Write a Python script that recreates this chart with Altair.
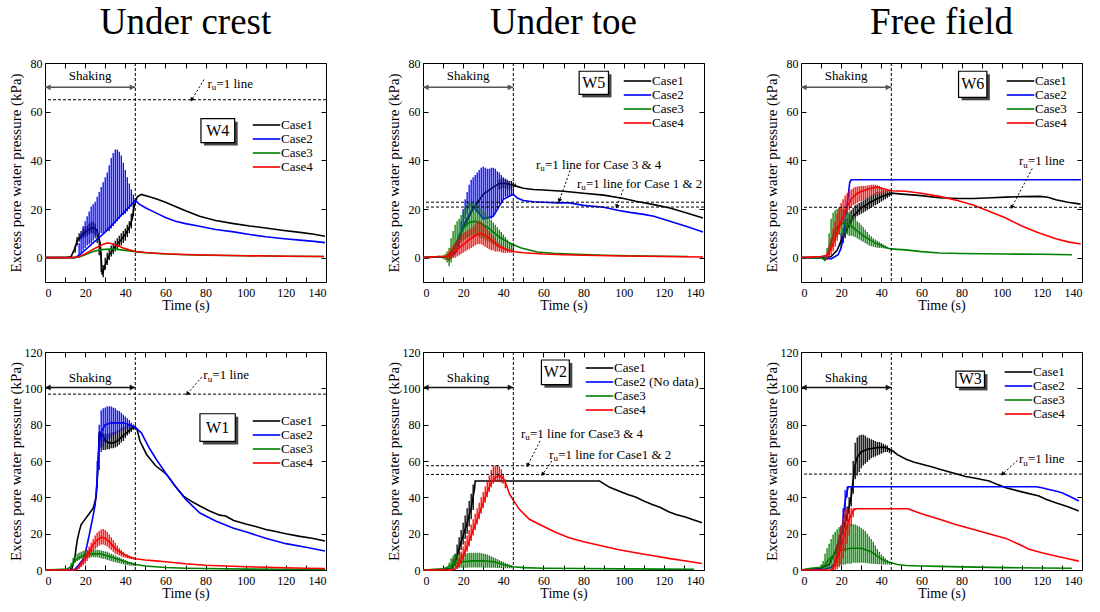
import math
import altair as alt
import pandas as pd

SERIF = "Liberation Serif, Times New Roman, DejaVu Serif, serif"
CASE_COLORS = ["#000000", "#0000ff", "#008000", "#ff0000"]
CASE_LABELS = ["Case1", "Case2", "Case3", "Case4"]
W2_CASE_LABELS = ["Case1", "Case2 (No data)", "Case3", "Case4"]
X_TICKS = list(range(0, 141, 10))
Y_TICKS_TOP = [0, 20, 40, 60, 80]
Y_TICKS_BOT = [0, 20, 40, 60, 80, 100, 120]
SHAKING_END = 45

# ---------------- W4 (Under crest, top) ----------------
W4_C1_T = [0, 10, 13, 15, 16, 18, 20, 22, 24, 26, 27.5, 28.5, 30, 32, 34, 36, 38, 40, 42, 43.5, 44.5, 46, 48, 52, 56, 60, 65, 70, 77, 85, 94, 102, 110, 118, 127, 134, 139.5]
W4_C1_V = [0, 0, 0.5, 4, 7, 9, 10.5, 11.5, 12.5, 11, 6, -7, -3, 1, 3.5, 5.5, 7.5, 9.5, 12.5, 16, 21.5, 25, 26, 25, 24, 22.8, 21, 19.3, 17, 15.3, 14, 13, 12.2, 11.3, 10.4, 9.6, 8.8]
W4_C1_B0 = 15
W4_C1_LO = [2, 5, 6.5, 7.5, 8, 8.5, 9, 9.5, 10, 10, 9, 6, 1, -6, -8, -5, -3, -1, 0.5, 1.5, 2.5, 3.5, 4.5, 5, 6, 7, 8.5, 10, 12, 17]
W4_C1_HI = [5, 8.5, 10, 11, 12, 12.5, 13, 14, 14.5, 15, 14, 12, 8, 2, -3, 0, 2, 3.5, 5, 6, 7, 8, 9, 10, 11, 12, 13.5, 15, 18, 22]
W4_C2_T = [0, 10, 15, 17, 30, 45, 47, 50, 55, 60, 65, 70, 77, 85, 94, 102, 110, 118, 127, 134, 139.5]
W4_C2_V = [0, 0, 0, 1, 10.5, 23.5, 22, 20.5, 18.5, 16.5, 15, 14, 12.9, 11.6, 10.6, 9.5, 8.6, 7.9, 7.2, 6.7, 6.2]
W4_C2_B0 = 17
W4_C2_LO = [1, 2, 3, 4, 5, 5.5, 6, 7, 8, 9, 9, 10, 10, 10.5, 11, 11, 12, 13, 14, 15, 16, 17, 17.5, 18, 19, 20, 21, 22, 23]
W4_C2_HI = [6, 10, 13, 15, 17, 19, 21, 22, 23, 25, 27, 29, 31, 33, 35, 38, 41, 43, 44.5, 44.5, 43.5, 42, 39, 36, 33, 30.5, 28, 26, 24.5]
W4_C3_T = [0, 14, 17, 20, 24, 28, 32, 36, 40, 45, 50, 60, 70, 80, 100, 120, 139]
W4_C3_V = [0, 0, 0.3, 1.2, 2.5, 3.3, 3.5, 3.4, 3, 2.5, 2, 1.5, 1.2, 1, 0.8, 0.6, 0.5]
W4_C4_T = [0, 14, 17, 20, 23, 26, 29, 31, 33, 36, 39, 42, 45, 50, 60, 70, 80, 100, 120, 139]
W4_C4_V = [0, 0, 0.5, 1.5, 3, 4.3, 5.5, 6, 5.8, 5, 4, 3.2, 2.5, 2.1, 1.6, 1.3, 1.1, 0.8, 0.6, 0.5]

# ---------------- W5 (Under toe, top) ----------------
W5_C1_T = [0, 12, 15, 20, 25, 30, 35, 38, 41, 44, 46, 50, 55, 60, 70, 80, 90, 100, 106, 115, 123, 131, 139.5]
W5_C1_V = [0, 0.5, 3, 12, 20, 26, 29, 30.5, 30.5, 30, 29.5, 28.5, 28, 27.8, 27.3, 26.5, 25.7, 24.3, 23.2, 21.8, 20.4, 18.5, 16.3]
W5_C1_B0 = 38
W5_C1_LO = [28, 28, 28.5, 28.5, 28, 28, 28, 28.5, 29]
W5_C1_HI = [32, 32.5, 32.5, 32, 32, 31.5, 31.5, 31, 30.5]
W5_C2_T = [0, 12, 15, 17, 20, 25, 30, 35, 40, 45, 47, 50, 55, 60, 67, 73, 80, 90, 97, 103, 110, 115, 123, 131, 139.5]
W5_C2_V = [0, 0.5, 1, 3, 13, 21, 16, 17, 24, 26, 24.5, 23.5, 23, 22.8, 22.5, 22.5, 21.5, 20.7, 19.5, 18.6, 17.8, 17, 15, 12.9, 10.5]
W5_C2_B0 = 17
W5_C2_LO = [3, 6, 9, 13, 16, 18, 20, 21, 21, 20, 19, 18, 17, 16, 16, 16, 16, 16, 17, 18, 20, 22, 23, 24, 25, 25, 25, 25.5, 26]
W5_C2_HI = [6, 10, 15, 20, 24, 27, 30, 32, 33, 34, 35, 36, 37, 37.5, 37, 36.5, 36.5, 37, 37, 36.5, 35.5, 35, 34, 33, 32.5, 32, 31.5, 30, 28]
W5_C3_T = [0, 8, 12, 13, 14, 16, 18, 20, 23, 26, 29, 32, 35, 38, 41, 45, 49, 57, 65, 73, 90, 110, 132]
W5_C3_V = [0, 0.5, 0, -1, 1, 5, 9, 12, 14.5, 15, 14, 12.5, 10.5, 8.5, 7, 5.3, 4, 2.3, 1.8, 1.5, 1, 0.7, 0.5]
W5_C3_B0 = 10
W5_C3_LO = [-0.5, -1, -2, -3.5, -2, 0, 2, 3.5, 5, 6, 7, 7.5, 8, 8.5, 9, 9, 9, 9, 8.5, 8, 8, 7.5, 7, 6.5, 6, 5.5, 5, 4.5, 4.2, 4, 3.8, 3.6, 3.4, 3.2, 3, 3]
W5_C3_HI = [1, 1.5, 2.5, 4, 8, 11, 13.5, 15, 16, 17.5, 19, 20.5, 21.5, 22.5, 22.5, 22.5, 22.5, 22, 21.5, 20.5, 19.5, 19, 18, 17, 15.5, 14.5, 13.5, 12.5, 11.5, 10.5, 9.5, 8.5, 7.5, 6.5, 6, 5.3]
W5_C4_T = [0, 8, 12, 15, 18, 21, 24, 27, 29, 32, 35, 38, 41, 45, 50, 60, 70, 80, 100, 120, 139.5]
W5_C4_V = [0, 0.5, 0.5, 2, 4, 6, 8, 9.5, 10, 8.5, 6.5, 4.5, 3.5, 2.5, 2, 1.5, 1.2, 1, 0.7, 0.5, 0.3]
W5_C4_B0 = 12
W5_C4_LO = [-1, -1, -0.5, 0, 0, 0.5, 1, 1.5, 2, 2.5, 3, 3.5, 4, 4.5, 5, 5.5, 5.5, 5.5, 5, 4.5, 4, 3.5, 3, 3, 2.5, 2.5, 2.5, 2.2, 2, 2, 2, 2, 2, 2]
W5_C4_HI = [1.5, 2.5, 4, 5, 6, 7, 8, 9, 10, 10.5, 11, 11.5, 12, 12.5, 13.5, 14.5, 15, 15, 14, 13, 12, 11, 10, 9, 8, 7, 6, 5.5, 5, 4.5, 4, 3.5, 3, 3]

# ---------------- W6 (Free field, top) ----------------
W6_C1_T = [0, 12, 15, 18, 20, 23, 26, 30, 35, 40, 45, 52, 60, 69, 78, 86, 95, 102, 110, 119, 123, 127, 133, 139.3]
W6_C1_V = [0, 0, 0.5, 3, 7, 12, 17, 20.5, 23, 25, 26.5, 26, 25.5, 24.6, 24.3, 24.3, 24.6, 24.9, 25.1, 25.2, 24.8, 23.8, 22.8, 22]
W6_C1_B0 = 20
W6_C1_LO = [4, 6, 8, 10, 12, 13.5, 15, 16, 17, 17.5, 18, 18.5, 19, 19.5, 20, 20.5, 21, 21.5, 22, 22.5, 23, 23.5, 24, 24.5, 25, 25.5]
W6_C1_HI = [10, 12, 14, 16, 18, 19.5, 20.5, 21.5, 22, 22.5, 23, 23.5, 24, 24.5, 25, 25.5, 26, 26.5, 27, 27, 27, 27.5, 27.5, 27.5, 27.5, 27.5]
W6_C2_T = [0, 12, 15, 18.5, 20, 21, 22, 23, 24.3, 25, 139.5]
W6_C2_V = [0, 0, -0.5, 1.2, 4, 8, 15, 22, 31, 32, 32]
W6_C3_T = [0, 10, 12, 13, 14, 16, 18, 20, 22, 25, 28, 31, 34, 37, 40, 43, 45, 48, 52, 60, 69, 80, 102, 120, 135]
W6_C3_V = [0, 0, -1, 0, 4, 9, 12.5, 14, 14, 13, 11, 9, 7.5, 6, 5, 4, 3.6, 3.4, 3.2, 2.5, 1.9, 1.7, 1.5, 1.4, 1.2]
W6_C3_B0 = 12
W6_C3_LO = [-1.5, -1, 1, 3, 5, 7, 8.5, 9.5, 9.5, 9.5, 9.5, 9.5, 9, 9, 8.8, 8.5, 8, 7.5, 7, 6.5, 6, 5.5, 5, 4.7, 4.5, 4.3, 4.1, 4, 4, 3.9, 3.8, 3.7, 3.6, 3.5]
W6_C3_HI = [1, 4, 10, 16, 18.5, 19.5, 20, 20.5, 20.5, 20, 20, 19.5, 19, 18, 17, 16, 15, 14.3, 13.5, 12.5, 11.5, 10.5, 9.5, 8.8, 8, 7.5, 7, 6.5, 6, 5.5, 5, 4.5, 4, 3.8]
W6_C4_T = [0, 10, 13, 15, 17, 19, 21, 23, 25, 28, 31, 35, 38, 41, 45, 52, 60, 69, 78, 86, 94, 102, 110, 118, 127, 133, 139.3]
W6_C4_V = [0, 0.5, 1, 3.5, 8, 13, 17, 21, 24, 26.5, 27.5, 28.5, 29, 28.3, 27.5, 27.3, 26.5, 25.2, 23.5, 21.5, 19, 16.3, 13, 10.3, 7.8, 6.5, 5.6]
W6_C4_B0 = 13
W6_C4_LO = [-1, 0, 1, 2.5, 4.5, 7, 9.5, 12, 14, 16, 18, 19.5, 20.5, 21.5, 22, 22.5, 23, 23.2, 23.5, 24, 24.5, 25, 25.3, 25.6, 25.8, 26, 26, 26.2, 26.4, 26.6, 26.8, 27]
W6_C4_HI = [2, 5, 8, 12, 15, 18, 20.5, 22.5, 24, 25.5, 26.5, 27.5, 28, 28.5, 29, 29.2, 29.3, 29.5, 29.5, 29.5, 29.7, 29.8, 30, 30, 30, 29.8, 29.5, 29, 28.6, 28.3, 28, 27.8]

# ---------------- W1 (Under crest, bottom) ----------------
W1_C1_T = [0, 12, 13.5, 15, 16, 17, 18, 20, 22, 24, 25.5, 26.3, 27, 28, 30, 32, 34, 36, 38, 40, 42, 44, 45.7, 47.3, 50.6, 55, 60.6, 65, 69, 73, 77.2, 82, 87, 90, 94, 100, 105, 110, 115, 120, 127, 133, 139.5]
W1_C1_V = [0, 0, 1, 8, 16, 21, 25, 28, 31, 34, 40, 55, 75, 76, 71, 70, 70, 71, 73, 75, 77, 78.5, 78, 71, 63.6, 57.5, 52.6, 46, 40.7, 37.8, 35.2, 32.5, 30.2, 29.7, 27.3, 25.3, 24, 22.3, 21.2, 20, 18.5, 17.5, 16]
W1_C1_B0 = 27
W1_C1_LO = [70, 67, 66, 66, 66.5, 66.5, 67, 67, 67.5, 68, 69, 70, 71, 72.5, 74, 75, 76, 77, 77.5]
W1_C1_HI = [76, 76, 74, 75, 75, 75, 75.5, 76, 76, 76.5, 77, 78, 78.5, 79, 79.5, 80, 80, 80, 79.5]
W1_C2_T = [0, 14, 15, 17, 19, 20, 22, 24, 25, 26, 27, 28, 30, 33, 36, 39, 42, 45, 48, 52, 56, 60, 65, 70, 77, 85, 94, 100, 110, 120, 130, 139.5]
W1_C2_V = [0, 0, 0.5, 3, 6, 9, 19, 30, 36, 50, 70, 76, 80, 81, 81, 81, 80, 78.5, 75.5, 67, 60, 53.5, 46, 39, 31.5, 27, 23, 21, 17.5, 14.5, 12.5, 10.5]
W1_C2_B0 = 26
W1_C2_LO = [45, 55, 65, 68, 70, 71, 72, 73, 74, 74.5, 75, 76, 76.5, 77, 77.5, 78, 78, 78, 78, 78]
W1_C2_HI = [60, 80, 88, 89, 89.5, 90, 90.2, 90, 89.5, 89, 88, 87.5, 86.5, 85.5, 84.5, 83.5, 82.5, 81, 80, 79.5]
W1_C3_T = [0, 11, 13, 15, 17, 20, 24, 28, 32, 36, 40, 45, 50, 60, 70, 80, 100, 120, 139.5]
W1_C3_V = [0, 0.5, 2, 5, 7, 8.3, 9, 8.8, 7.5, 6, 4.5, 3, 2.2, 1.4, 1, 0.8, 0.5, 0.4, 0.3]
W1_C3_B0 = 13
W1_C3_LO = [1, 2.5, 4, 5, 5.5, 6, 6.2, 6.5, 6.8, 7, 7, 7, 7, 7, 6.8, 6.5, 6.2, 6, 5.5, 5.2, 5, 4.6, 4.3, 4, 3.7, 3.4, 3.1, 2.9, 2.7, 2.5, 2.4, 2.3, 2.2]
W1_C3_HI = [4, 6.5, 8, 9, 9.5, 10, 10.5, 11, 11, 11.2, 11.3, 11.3, 11.3, 11.2, 11, 10.8, 10.5, 10.2, 10, 9.5, 9, 8.5, 8, 7.5, 7, 6.5, 6, 5.5, 5, 4.5, 4.2, 4, 3.5]
W1_C4_T = [0, 15, 16, 18, 20, 22, 24, 26, 28, 30, 32, 34, 36, 38, 40, 42, 45, 50, 55, 60, 70, 80, 90, 100, 110, 120, 130, 139.5]
W1_C4_V = [0, 0, 0.5, 3, 6, 10, 14, 16.5, 18, 17.5, 15.5, 13, 11, 9.5, 8.2, 7.2, 6.2, 5.5, 5, 4.5, 3.4, 2.6, 2.2, 1.8, 1.5, 1.2, 1, 0.8]
W1_C4_B0 = 17
W1_C4_LO = [0.5, 1.5, 2.5, 3.5, 5, 6.5, 8, 10, 11.5, 12.5, 13.5, 14, 14, 13.5, 13, 12, 11, 10, 9, 8.5, 8, 7.5, 7, 6.8, 6.5, 6.2, 6, 5.8, 5.6]
W1_C4_HI = [2.5, 4.5, 6.5, 8.5, 11, 13, 15, 17, 19, 20.5, 21.5, 22.3, 22.5, 22, 21, 19.5, 18, 16.5, 15, 13.5, 12, 11, 10, 9, 8.5, 8, 7.5, 7, 6.5]

# ---------------- W2 (Under toe, bottom) ----------------
W2_C1_T = [0, 12, 14, 16, 18, 20, 22, 24, 25.7, 26, 88, 89.4, 93, 97.6, 102, 105.9, 110, 114.2, 118, 122.4, 126, 130.7, 135, 139]
W2_C1_V = [0, 0.5, 1, 4, 12, 19, 26, 34, 45, 49, 49, 48, 45.5, 43.5, 41.5, 40.2, 38, 36.1, 34.5, 32.1, 30.5, 29.2, 27.5, 26]
W2_C1_B0 = 15
W2_C1_LO = [0.5, 2, 5, 8, 11, 14, 17, 20, 24, 28, 33]
W2_C1_HI = [6, 9, 14, 18, 22, 26, 30, 34, 38, 42, 47]
W2_C3_T = [0, 10, 13, 16, 20, 25, 30, 35, 40, 45, 50, 60, 80, 100, 120, 135]
W2_C3_V = [0, 0.5, 2, 4, 4.5, 5, 5, 4.5, 3, 1.8, 1.3, 1, 0.8, 0.6, 0.5, 0.4]
W2_C3_B0 = 13
W2_C3_LO = [0.5, 0.5, 1, 1, 1, 1.2, 1.2, 1.3, 1.3, 1.3, 1.4, 1.4, 1.4, 1.4, 1.4, 1.4, 1.4, 1.4, 1.3, 1.3, 1.3, 1.2, 1.2, 1.2, 1.1, 1.1, 1, 1, 1, 1, 1, 1]
W2_C3_HI = [4, 6.5, 8, 8.5, 8.5, 8.7, 8.8, 9, 9, 9.2, 9.3, 9.5, 9.5, 9.5, 9.5, 9.5, 9.3, 9, 8.8, 8.5, 8, 7.5, 7, 6.5, 6, 5.5, 5, 4.5, 4, 3.5, 3, 2.5]
W2_C4_T = [0, 14, 16, 18, 20, 22, 24, 26, 28, 30, 32, 34, 36, 38, 40, 41.5, 43, 44.7, 48, 53, 59.6, 66, 72.8, 80, 89.4, 97, 105.9, 114, 122.4, 131, 139]
W2_C4_V = [0, 0, 0.5, 3, 8, 13, 19, 25, 31, 37, 43, 48, 51, 52, 50.5, 47, 42, 38.9, 33.4, 27.9, 24.2, 20.8, 17.8, 15.5, 13.2, 11.3, 9.5, 8, 6.4, 5, 3.6]
W2_C4_B0 = 17
W2_C4_LO = [0.5, 1.5, 3, 5, 7.5, 10, 13, 16, 19, 22, 25, 28, 31, 34, 37, 40, 43, 45.5, 47.5, 48.5, 48.5, 48.5, 48, 47.5, 45]
W2_C4_HI = [4, 7, 10, 13, 16, 19, 22, 25, 28, 31, 34, 37, 40, 43, 46, 49, 52, 55, 57, 57.5, 57.5, 57, 55.5, 53, 50]

# ---------------- W3 (Free field, bottom) ----------------
W3_C1_T = [0, 10, 14, 17, 19, 21, 23, 25, 26, 27, 28, 30, 33, 36, 39, 42, 44, 45.8, 48, 52.4, 56, 60.7, 65, 70, 77.2, 82, 87, 90, 93.8, 98, 102.1, 110, 118.6, 122, 126.9, 133, 138.4]
W3_C1_V = [0, 1, 3, 10, 16, 22, 30, 40, 50, 58, 62, 65, 66.5, 67, 67.5, 67.5, 66.5, 65.5, 63.5, 61, 59.5, 58.1, 56.8, 55.2, 53, 51.5, 50.5, 49.8, 49, 47, 45.3, 43, 40.7, 39, 37, 34.8, 32.5]
W3_C1_B0 = 18
W3_C1_LO = [8, 12, 16, 20, 24, 27, 31, 35, 42, 50, 52, 54, 56, 57.5, 58.5, 59.5, 60.5, 61.5, 62, 62.5, 63, 63.5, 64, 64.5, 65, 65, 64.5, 64]
W3_C1_HI = [14, 19, 23, 27, 31, 35, 40, 46, 60, 70, 73, 74, 74.5, 74.5, 74, 73, 72.5, 72, 71.5, 71, 70.5, 70.5, 70, 69.5, 69, 68.5, 67, 66]
W3_C2_T = [0, 12, 15, 17, 19, 20.2, 21, 22, 23.5, 117, 120, 123, 126.9, 130, 134, 138.4]
W3_C2_V = [0, 0.5, 1.5, 4, 10, 20, 28, 38, 45.8, 45.8, 45.3, 44.5, 43.5, 42.5, 40.5, 38]
W3_C2_B0 = 17
W3_C2_LO = [2, 4, 8, 14, 22, 32, 40]
W3_C2_HI = [6, 9, 14, 24, 34, 44, 46]
W3_C3_T = [0, 5, 10, 12, 14, 17, 20, 25, 30, 35, 40, 43, 45, 48, 52.4, 60, 69, 80, 102, 120, 135]
W3_C3_V = [0, 1, 1.5, 3, 6, 9, 11, 12, 12, 10, 6, 4.5, 4, 3, 2.5, 2.2, 2, 1.7, 1.3, 1.1, 1]
W3_C3_B0 = 10
W3_C3_LO = [0.5, 0.5, 0.5, 0.5, 0.5, 0.5, 1, 1.5, 2, 2.5, 2.5, 3, 3, 3.5, 3.5, 3.5, 4, 4, 4, 4, 4, 4, 3.8, 3.7, 3.6, 3.5, 3.4, 3.3, 3.2, 3.1, 3, 3, 3, 3, 3]
W3_C3_HI = [3, 5, 9, 12, 14.5, 17, 19.5, 21, 22.5, 23.5, 24.5, 25, 25, 25.2, 25.3, 25.3, 25.2, 25, 24.5, 24, 23.3, 22.5, 21.5, 20, 18.5, 17, 15.5, 13.5, 11.5, 10, 8.5, 7.5, 6.5, 5.5, 4.5]
W3_C4_T = [0, 15, 16, 18, 20, 22, 24, 26, 27, 53.2, 60, 69, 77, 85.6, 94, 102.1, 108, 113.7, 120, 126.9, 133, 138.4]
W3_C4_V = [0, 0, 1, 6, 13, 21, 28, 32.5, 33.7, 33.7, 31, 27.9, 25, 22.4, 19.8, 17.4, 14.5, 11.4, 9.5, 7.7, 6.2, 4.9]
W3_C4_B0 = 16
W3_C4_LO = [0, 0, 0.5, 1.5, 3, 6, 10, 14.5, 19, 24, 29, 33]
W3_C4_HI = [3, 8, 14, 19.5, 24.5, 29, 33, 34, 34, 34, 34, 34]

# ---------------- annotations (data coordinates) ----------------
PANEL_NAMES = ["W4", "W5", "W6", "W1", "W2", "W3"]
COLUMN_TITLES = ["Under crest", "Under toe", "Free field", None, None, None]
Y_DOMAINS = [[-10, 80], [-10, 80], [-10, 80], [0, 120], [0, 120], [0, 120]]
SHAKE_Y = [70, 70, 70, 100.5, 100.5, 100.5]
SHAKE_TEXT_Y = [74.8, 74.8, 74.8, 105.5, 105.5, 105.5]
RU_LINES = [[64.9], [22.8, 20.8], [20.7], [96.8], [57.4, 52.6], [52.8]]
RU_TEXTS = [
    [(80.9, 71.5, "=1 line")],
    [(56.3, 38.2, "=1 line for Case 3 & 4"), (76.7, 30.3, "=1 line for Case 1 & 2")],
    [(108.6, 39.6, "=1 line")],
    [(78.9, 107.1, "=1 line")],
    [(48.8, 75.0, "=1 line for Case3 & 4"), (62.9, 63.5, "=1 line for Case1 & 2")],
    [(108.6, 60.9, "=1 line")],
]
RU_ARROWS = [
    [(79.2, 73.2, 73.1, 64.9)],
    [(73.3, 35.8, 67.9, 23.4), (99.8, 28.0, 96.5, 21.0)],
    [(115.2, 36.6, 105.0, 20.7)],
    [(78.1, 106.2, 70.9, 97.0)],
    [(58.3, 71.0, 52.1, 57.6), (64.2, 60.0, 59.6, 52.6)],
    [(107.8, 60.3, 100.4, 52.8)],
]
BOXES = [  # x1, x2, y_top, y_bottom
    (77.7, 94.5, 57.1, 47.3),
    (77.8, 92.4, 76.6, 67.1),
    (78.5, 92.6, 76.6, 65.9),
    (77.2, 94.8, 86.0, 70.8),
    (59.0, 72.9, 115.6, 102.0),
    (77.2, 91.4, 109.5, 100.5),
]
LEGEND_POS = [(207, 62), (200, 18), (205, 18), (207, 69), (162, 16), (203, 20)]
ARROW_COLORS = ["#555555", "#555555", "#555555", "#111111", "#111111", "#111111"]

SERIES = [
    [(W4_C1_T, W4_C1_V, W4_C1_B0, W4_C1_LO, W4_C1_HI), (W4_C2_T, W4_C2_V, W4_C2_B0, W4_C2_LO, W4_C2_HI),
     (W4_C3_T, W4_C3_V, 0, [], []), (W4_C4_T, W4_C4_V, 0, [], [])],
    [(W5_C1_T, W5_C1_V, W5_C1_B0, W5_C1_LO, W5_C1_HI), (W5_C2_T, W5_C2_V, W5_C2_B0, W5_C2_LO, W5_C2_HI),
     (W5_C3_T, W5_C3_V, W5_C3_B0, W5_C3_LO, W5_C3_HI), (W5_C4_T, W5_C4_V, W5_C4_B0, W5_C4_LO, W5_C4_HI)],
    [(W6_C1_T, W6_C1_V, W6_C1_B0, W6_C1_LO, W6_C1_HI), (W6_C2_T, W6_C2_V, 0, [], []),
     (W6_C3_T, W6_C3_V, W6_C3_B0, W6_C3_LO, W6_C3_HI), (W6_C4_T, W6_C4_V, W6_C4_B0, W6_C4_LO, W6_C4_HI)],
    [(W1_C1_T, W1_C1_V, W1_C1_B0, W1_C1_LO, W1_C1_HI), (W1_C2_T, W1_C2_V, W1_C2_B0, W1_C2_LO, W1_C2_HI),
     (W1_C3_T, W1_C3_V, W1_C3_B0, W1_C3_LO, W1_C3_HI), (W1_C4_T, W1_C4_V, W1_C4_B0, W1_C4_LO, W1_C4_HI)],
    [(W2_C1_T, W2_C1_V, W2_C1_B0, W2_C1_LO, W2_C1_HI), ([], [], 0, [], []),
     (W2_C3_T, W2_C3_V, W2_C3_B0, W2_C3_LO, W2_C3_HI), (W2_C4_T, W2_C4_V, W2_C4_B0, W2_C4_LO, W2_C4_HI)],
    [(W3_C1_T, W3_C1_V, W3_C1_B0, W3_C1_LO, W3_C1_HI), (W3_C2_T, W3_C2_V, W3_C2_B0, W3_C2_LO, W3_C2_HI),
     (W3_C3_T, W3_C3_V, W3_C3_B0, W3_C3_LO, W3_C3_HI), (W3_C4_T, W3_C4_V, W3_C4_B0, W3_C4_LO, W3_C4_HI)],
]

# ---------------- layout / style ----------------
PW = 281
PH_TOP = 219
PH_BOT = 218
AX_LABEL = dict(labelFont=SERIF, labelFontSize=12, labelColor="black", tickColor="black",
                tickWidth=1, grid=False, domain=False, offset=-5, tickSize=5)
LEGEND_SYMBOL = "M-2.5,0H2.5"
LEGEND_SYMBOL_SIZE = 121


def build_panel(i, height):
    name = PANEL_NAMES[i]
    ydom = Y_DOMAINS[i]
    yticks = Y_TICKS_TOP if ydom[1] == 80 else Y_TICKS_BOT
    labels = W2_CASE_LABELS if name == "W2" else CASE_LABELS
    xs = alt.Scale(domain=[0, 140], nice=False, zero=False)
    ys = alt.Scale(domain=ydom, nice=False, zero=False)
    lx, ly = LEGEND_POS[i]
    color = alt.Color(
        "case:N",
        scale=alt.Scale(domain=labels, range=CASE_COLORS),
        legend=alt.Legend(orient="none", legendX=lx + 8, legendY=ly - 6.5, title=None,
                          symbolType=LEGEND_SYMBOL, symbolSize=LEGEND_SYMBOL_SIZE, symbolStrokeWidth=1.6,
                          labelFont=SERIF, labelFontSize=13, labelColor="black",
                          labelOffset=8, rowPadding=0, padding=0, labelLimit=200),
    )
    X = lambda f: alt.X(f, scale=xs, axis=None)
    Y = lambda f: alt.Y(f, scale=ys, axis=None)

    layers = []
    for ci, (T, V, B0, LO, HI) in enumerate(SERIES[i]):
        if LO:
            bdf = pd.DataFrame({"t": list(range(B0, B0 + len(LO))), "lo": LO, "hi": HI, "case": labels[ci]})
            layers.append(alt.Chart(bdf).mark_rule(strokeWidth=1.3).encode(
                x=X("t:Q"), y=Y("lo:Q"), y2="hi:Q", color=color))
        if T:
            ldf = pd.DataFrame({"t": T, "v": V, "case": labels[ci]})
            layers.append(alt.Chart(ldf).mark_line(strokeWidth=1.6).encode(
                x=X("t:Q"), y=Y("v:Q"), color=color, order="t:Q"))
        else:
            ldf = pd.DataFrame({"t": [None], "v": [None], "case": [labels[ci]]})
            layers.append(alt.Chart(ldf).mark_line(strokeWidth=1.6).encode(
                x=X("t:Q"), y=Y("v:Q"), color=color))

    layers.append(alt.Chart(pd.DataFrame({"t": [SHAKING_END]})).mark_rule(
        color="black", strokeDash=[3, 2], strokeWidth=1).encode(
        x=alt.X("t:Q", scale=xs, axis=alt.Axis(
            orient="bottom", values=X_TICKS,
            labelExpr="datum.value % 20 == 0 ? datum.label : ''",
            labelPadding=5, labelBaseline="top",
            title="Time (s)", titleFont=SERIF, titleFontSize=14, titleFontWeight="normal",
            titleColor="black", titleBaseline="middle", titleY=28, **AX_LABEL))))

    layers.append(alt.Chart(pd.DataFrame({"v": RU_LINES[i]})).mark_rule(
        color="black", strokeDash=[3, 2], strokeWidth=1).encode(
        y=alt.Y("v:Q", scale=ys, axis=alt.Axis(
            orient="left", values=yticks, labelPadding=3,
            title="Excess pore water pressure (kPa)", titleFont=SERIF, titleFontSize=15,
            titleFontWeight="normal", titleColor="black", titleBaseline="middle",
            titleX=-35, **AX_LABEL))))

    sdf = pd.DataFrame({"x1": [0], "x2": [SHAKING_END], "y": [SHAKE_Y[i]]})
    mirror = dict(labels=False, title=None, grid=False, domain=False, offset=-5, tickSize=5,
                  tickColor="black", tickWidth=1, minExtent=0, maxExtent=0)
    layers.append(alt.Chart(sdf).mark_rule(color=ARROW_COLORS[i], strokeWidth=1.5).encode(
        x=alt.X("x1:Q", scale=xs, axis=alt.Axis(orient="top", values=X_TICKS, **mirror)),
        x2="x2:Q",
        y=alt.Y("y:Q", scale=ys, axis=alt.Axis(orient="right", values=yticks, **mirror))))
    layers.append(alt.Chart(sdf).mark_point(shape="triangle-left", filled=True, size=35, opacity=1,
                                            color=ARROW_COLORS[i], xOffset=3).encode(x=X("x1:Q"), y=Y("y:Q")))
    layers.append(alt.Chart(sdf).mark_point(shape="triangle-right", filled=True, size=35, opacity=1,
                                            color=ARROW_COLORS[i], xOffset=-3).encode(x=X("x2:Q"), y=Y("y:Q")))
    layers.append(alt.Chart(pd.DataFrame({"t": [SHAKING_END / 2], "v": [SHAKE_TEXT_Y[i]]})).mark_text(
        text="Shaking", font=SERIF, fontSize=13, color="black", align="center", baseline="middle").encode(
        x=X("t:Q"), y=Y("v:Q")))

    tdf = pd.DataFrame(RU_TEXTS[i], columns=["t", "v", "rest"])
    tb = alt.Chart(tdf).encode(x=X("t:Q"), y=Y("v:Q"))
    common = dict(align="left", baseline="middle", font=SERIF, color="black")
    layers.append(tb.mark_text(text="r", fontSize=13, **common))
    layers.append(tb.mark_text(text="u", fontSize=9, dx=4.3, dy=3.5, **common))
    layers.append(tb.mark_text(fontSize=13, dx=9, **common).encode(text="rest:N"))

    pxs = PW / 140.0
    pxv = height / float(ydom[1] - ydom[0])
    arrows = RU_ARROWS[i]
    adf = pd.DataFrame(arrows, columns=["t1", "v1", "t2", "v2"])
    adf["ang"] = [math.degrees(math.atan2((a[2] - a[0]) * pxs, (a[3] - a[1]) * pxv)) % 360 for a in arrows]
    layers.append(alt.Chart(adf).mark_rule(color="black", strokeDash=[2, 2], strokeWidth=1).encode(
        x=X("t1:Q"), y=Y("v1:Q"), x2="t2:Q", y2="v2:Q"))
    layers.append(alt.Chart(adf).mark_point(shape="triangle-up", filled=True, size=22, opacity=1,
                                            color="black").encode(
        x=X("t2:Q"), y=Y("v2:Q"), angle=alt.Angle("ang:Q", scale=None)))

    b = BOXES[i]
    bdf = pd.DataFrame({"x1": [b[0]], "x2": [b[1]], "y1": [b[2]], "y2": [b[3]],
                        "cx": [(b[0] + b[1]) / 2], "cy": [(b[2] + b[3]) / 2], "lab": [name]})
    layers.append(alt.Chart(bdf).mark_rect(color="#444444", xOffset=3, x2Offset=3, yOffset=3, y2Offset=3).encode(
        x=X("x1:Q"), x2="x2:Q", y=Y("y1:Q"), y2="y2:Q"))
    layers.append(alt.Chart(bdf).mark_rect(fill="white", stroke="black", strokeWidth=1.2).encode(
        x=X("x1:Q"), x2="x2:Q", y=Y("y1:Q"), y2="y2:Q"))
    layers.append(alt.Chart(bdf).mark_text(font=SERIF, fontSize=16, color="black",
                                           align="center", baseline="middle").encode(
        x=X("cx:Q"), y=Y("cy:Q"), text="lab:N"))

    props = dict(width=PW, height=height)
    if COLUMN_TITLES[i]:
        props["title"] = alt.TitleParams(COLUMN_TITLES[i], font=SERIF, fontSize=37, fontWeight="normal",
                                         color="black", anchor="middle", frame="group",
                                         baseline="alphabetic", offset=-14)
    return alt.layer(*layers).properties(**props)


panels = [build_panel(i, PH_TOP if i < 3 else PH_BOT) for i in range(6)]
chart = alt.concat(*panels, columns=3, spacing={"row": 70, "column": 97}, bounds="flush").resolve_scale(
    color="independent").resolve_legend(color="independent").properties(
    padding={"left": 7, "top": 3, "right": 5, "bottom": 5}, background="white"
).configure(font=SERIF).configure_view(stroke="black", strokeWidth=1).configure_axis(
    labelFont=SERIF, titleFont=SERIF, titleFontWeight="normal").configure_legend(
    labelFont=SERIF).configure_title(font=SERIF, fontWeight="normal")

chart.save("out.html", embed_options={"renderer": "svg", "actions": False})
